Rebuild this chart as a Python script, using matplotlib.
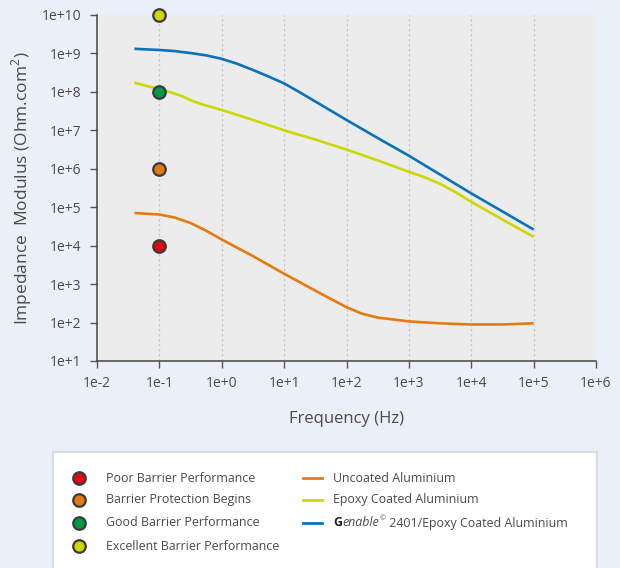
import matplotlib
matplotlib.use("Agg")
import matplotlib.pyplot as plt
import numpy as np

plt.rcParams['font.family'] = ['Open Sans', 'DejaVu Sans']
plt.rcParams['mathtext.fontset'] = 'custom'
plt.rcParams['mathtext.rm'] = 'Open Sans'

# ---- data (log10 of frequency / impedance) ----
uncoated_logf = [-1.4, -1.0, -0.75, -0.5, -0.25, 0.0, 0.5, 1.0, 1.5, 2.0, 2.25, 2.5, 3.0, 3.5, 4.0, 4.5, 5.0]
uncoated_log = [4.85, 4.81, 4.73, 4.59, 4.39, 4.16, 3.73, 3.27, 2.83, 2.40, 2.23, 2.13, 2.03, 1.98, 1.95, 1.95, 1.98]

epoxy_logf = [-1.4, -1.0, -0.8, -0.62, -0.48, -0.3, 0.0, 0.5, 1.0, 1.5, 2.0, 2.5, 3.0, 3.25, 3.5, 3.75, 4.0, 4.5, 5.0]
epoxy_log = [8.24, 8.07, 7.98, 7.88, 7.77, 7.67, 7.53, 7.27, 7.0, 6.76, 6.50, 6.22, 5.92, 5.78, 5.61, 5.39, 5.14, 4.68, 4.23]

genable_logf = [-1.4, -1.0, -0.75, -0.5, -0.25, 0.0, 0.25, 0.5, 0.75, 1.0, 1.25, 1.5, 1.75, 2.0, 2.5, 3.0, 3.5, 4.0, 4.5, 5.0]
genable_log = [9.12, 9.09, 9.06, 9.01, 8.95, 8.86, 8.73, 8.57, 8.40, 8.22, 7.99, 7.75, 7.51, 7.27, 6.80, 6.34, 5.85, 5.36, 4.89, 4.42]

marker_freq = [0.1, 0.1, 0.1, 0.1]
marker_vals = [1e4, 1e6, 1e8, 1e10]
marker_labels = ["Poor Barrier Performance", "Barrier Protection Begins",
                 "Good Barrier Performance", "Excellent Barrier Performance"]
marker_colors = ["#e30613", "#e57a10", "#009a46", "#cfd600"]

line_labels = ["Uncoated Aluminium", "Epoxy Coated Aluminium"]
line_colors = ["#e8790e", "#cdd700", "#0a72ba"]

xticks = [1e-2, 1e-1, 1e0, 1e1, 1e2, 1e3, 1e4, 1e5, 1e6]
xticklabels = ["1e-2", "1e-1", "1e+0", "1e+1", "1e+2", "1e+3", "1e+4", "1e+5", "1e+6"]
yticks = [1e1, 1e2, 1e3, 1e4, 1e5, 1e6, 1e7, 1e8, 1e9, 1e10]
yticklabels = ["1e+1", "1e+2", "1e+3", "1e+4", "1e+5", "1e+6", "1e+7", "1e+8", "1e+9", "1e+10"]

W, H = 620, 568
bg = "#ebeffa"
txt = "#4a4a4a"
fig = plt.figure(figsize=(W / 100, H / 100), dpi=100, facecolor=bg)

x0, x1, y0, y1 = 97, 596, 15, 361
ax = fig.add_axes([x0 / W, 1 - y1 / H, (x1 - x0) / W, (y1 - y0) / H])
ax.set_facecolor("#ececec")
ax.set_xscale("log")
ax.set_yscale("log")
ax.set_xlim(1e-2, 1e6)
ax.set_ylim(1e1, 1e10)

for v in xticks[1:-1]:
    ax.axvline(v, color="#c9c9c9", lw=0.9, ls=(0, (2, 2)), zorder=1)

series = [(uncoated_logf, uncoated_log), (epoxy_logf, epoxy_log), (genable_logf, genable_log)]
for (lf, vals), c in zip(series, line_colors):
    ax.plot(10 ** np.array(lf), 10 ** np.array(vals), color=c, lw=1.9, zorder=3,
            solid_capstyle="butt", solid_joinstyle="round")

for f, v, c in zip(marker_freq, marker_vals, marker_colors):
    ax.plot([f], [v], "o", ms=9, mfc=c, mec="#3a3a3a", mew=1.6, zorder=5, clip_on=False)

ax.set_xticks(xticks)
ax.set_xticklabels(xticklabels)
ax.set_yticks(yticks)
ax.set_yticklabels(yticklabels)
ax.minorticks_off()
ax.tick_params(axis="both", direction="out", length=5, width=1, color="#555555",
               labelsize=10, labelcolor=txt, pad=6)
for s in ["top", "right"]:
    ax.spines[s].set_visible(False)
for s in ["left", "bottom"]:
    ax.spines[s].set_color("#444444")
    ax.spines[s].set_linewidth(1.1)

ax.set_xlabel("Frequency (Hz)", fontsize=12, color=txt, labelpad=14)
ax.set_ylabel("Impedance  Modulus (Ohm.com$^2$)", fontsize=12.5, color=txt, labelpad=6)

# ---- legend box ----
lx0, lx1, ly0, ly1 = 53, 597, 452, 580
lax = fig.add_axes([0, 0, 1, 1], facecolor="none")
lax.set_xlim(0, W)
lax.set_ylim(H, 0)
lax.axis("off")
lax.add_patch(plt.Rectangle((lx0, ly0), lx1 - lx0, ly1 - ly0, facecolor="white",
                            edgecolor="#d9dbe0", lw=1.5, clip_on=False))
rows = [478, 500, 523, 546]
fs = 8.9
for yy, lab, c in zip(rows, marker_labels, marker_colors):
    lax.plot([79], [yy], "o", ms=9, mfc=c, mec="#3a3a3a", mew=1.6)
    lax.text(106, yy, lab, fontsize=fs, color=txt, va="center", ha="left")
for yy, lab, c in zip(rows[:2], line_labels, line_colors[:2]):
    lax.plot([303, 322], [yy, yy], color=c, lw=2)
    lax.text(333, yy, lab, fontsize=fs, color=txt, va="center", ha="left")
yy = rows[2]
lax.plot([303, 322], [yy, yy], color=line_colors[2], lw=2)
t1 = lax.text(333, yy, "G", fontsize=fs, color="#222222", fontweight="bold", va="center", ha="left")
t2 = lax.annotate("enable", xy=(1, 0.5), xycoords=t1, fontsize=fs, color=txt,
                  style="italic", va="center", ha="left")
t3 = lax.annotate("©", xy=(1, 0.85), xycoords=t2, fontsize=5, color=txt,
                  va="center", ha="left", xytext=(0.5, 0), textcoords="offset points")
lax.annotate(" 2401/Epoxy Coated Aluminium", xy=(1, 0.5), xycoords=t2, fontsize=fs,
             color=txt, va="center", ha="left", xytext=(5, 0), textcoords="offset points")

fig.savefig("out.png", dpi=100, facecolor=bg)
